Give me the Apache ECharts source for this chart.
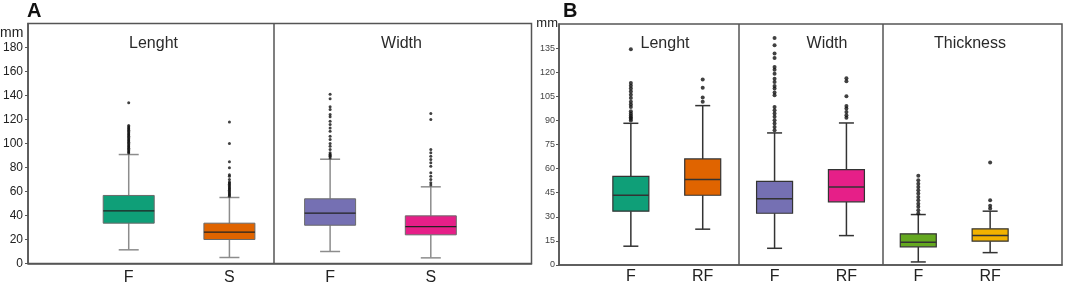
<!DOCTYPE html>
<html>
<head>
<meta charset="utf-8">
<script src="https://cdn.jsdelivr.net/npm/echarts@6/dist/echarts.min.js"></script>
<style>html,body{margin:0;padding:0;background:#fff}#c{width:1065px;height:286px}</style>
</head>
<body>
<div id="c"></div>
<script>
// ---------- DATA ----------
// Categories (empty entries pad the axis ends)
const catsA = ['', 'F', 'S', 'F', 'S', ''];
const catsB = ['', 'F', 'RF', 'F', 'RF', 'F', 'RF', ''];
const panelTitlesA = ['Lenght', 'Width'];
const panelTitlesB = ['Lenght', 'Width', 'Thickness'];
const unitLabel = 'mm';

// Box statistics: [low whisker, Q1, median, Q3, high whisker]  (mm)
const aLenghtF = [11.4, 33.6, 43.9, 56.7, 90.8];
const aLenghtS = [5.0, 20.0, 26.1, 33.6, 55.0];
const aWidthF  = [10.0, 31.9, 41.9, 53.9, 86.9];
const aWidthS  = [4.7, 23.9, 30.8, 39.7, 63.9];

const bLenghtF  = [11.7, 33.5, 43.4, 55.2, 88.2];
const bLenghtRF = [22.3, 43.4, 53.2, 66.0, 99.2];
const bWidthF   = [10.4, 32.2, 41.3, 52.1, 82.2];
const bWidthRF  = [18.3, 39.3, 48.6, 59.4, 88.4];
const bThickF   = [1.9, 11.3, 14.2, 19.4, 31.4];
const bThickRF  = [7.7, 14.8, 18.3, 22.5, 33.5];

// Outliers (mm)
const aLenghtFOut = [92, 93, 94, 95, 96, 97, 98, 99, 100, 101, 102, 103, 104, 105, 106, 107, 108, 109, 110, 111, 112, 113, 114, 115, 134];
const aLenghtSOut = [56, 57, 58, 59, 60, 61, 62, 63, 64, 65, 66, 67, 68, 70, 72.8, 74, 79.7, 84.7, 100, 118];
const aWidthFOut  = [88, 89.4, 90, 91, 92.2, 95, 97.8, 100, 103.3, 106.1, 110.3, 113, 115.8, 118.6, 122.2, 124.2, 128.3, 130.6, 137.2, 141.1];
const aWidthSOut  = [65.5, 67.2, 70, 72.8, 75.6, 81.1, 83.9, 86.7, 89.4, 92.2, 95, 120, 125];

const bLenghtFOut  = [90, 91, 92, 93, 94.3, 95.7, 98.4, 99.9, 101.6, 104, 106, 108, 109.8, 111.5, 113.3, 134.3];
const bLenghtRFOut = [101.6, 104.2, 110.3, 115.4];
const bWidthFOut   = [83.9, 85.9, 88, 90.1, 92.2, 94.3, 96.3, 98.4, 105.7, 107.3, 109.8, 111.4, 113.9, 116, 119.1, 121.6, 123.3, 128.9, 131.6, 136.8, 141.3];
const bWidthRFOut  = [91.6, 93.2, 95.3, 97.4, 99, 105, 114.4, 116.2];
const bThickFOut   = [32, 34.1, 36.2, 38.2, 40.3, 42.4, 44.5, 46.5, 48.6, 50.5, 52.8, 55.5];
const bThickRFOut  = [35.1, 36.8, 40.3, 63.8];

// Panel divider positions (in category-axis units)
const dividersA = [2.44];
const dividersB = [2.5, 4.5];

// ---------- STYLE ----------
const colors = {teal:'#0f9f78', orange:'#e06400', purple:'#7570b3', pink:'#e61f88', lime:'#64a820', gold:'#f2b200'};
const FONT = '"Liberation Sans", Arial, sans-serif';

const boxesA = [
  {x:1, s:aLenghtF, o:aLenghtFOut, c:colors.teal},
  {x:2, s:aLenghtS, o:aLenghtSOut, c:colors.orange},
  {x:3, s:aWidthF,  o:aWidthFOut,  c:colors.purple},
  {x:4, s:aWidthS,  o:aWidthSOut,  c:colors.pink}
];
const boxesB = [
  {x:1, s:bLenghtF,  o:bLenghtFOut,  c:colors.teal},
  {x:2, s:bLenghtRF, o:bLenghtRFOut, c:colors.orange},
  {x:3, s:bWidthF,   o:bWidthFOut,   c:colors.purple},
  {x:4, s:bWidthRF,  o:bWidthRFOut,  c:colors.pink},
  {x:5, s:bThickF,   o:bThickFOut,   c:colors.lime},
  {x:6, s:bThickRF,  o:bThickRFOut,  c:colors.gold}
];

function makeRenderer(st) {
  return function (params, api) {
    const x = api.value(0);
    const p = [1,2,3,4,5].map(i => api.coord([x, api.value(i)]));
    const cx = p[0][0];
    const yLow = p[0][1], yQ1 = p[1][1], yMed = p[2][1], yQ3 = p[3][1], yHigh = p[4][1];
    const hw = st.boxW / 2, cw = st.capW / 2;
    const ws = {stroke: st.whisker, lineWidth: st.wLW};
    return {type:'group', children:[
      {type:'line', shape:{x1:cx, y1:yHigh, x2:cx, y2:yQ3}, style:ws},
      {type:'line', shape:{x1:cx, y1:yQ1, x2:cx, y2:yLow}, style:ws},
      {type:'line', shape:{x1:cx-cw, y1:yHigh, x2:cx+cw, y2:yHigh}, style:ws},
      {type:'line', shape:{x1:cx-cw, y1:yLow, x2:cx+cw, y2:yLow}, style:ws},
      {type:'rect', shape:{x:cx-hw, y:yQ3, width:st.boxW, height:yQ1-yQ3},
        style:{fill: api.visual('color'), stroke: st.border, lineWidth: st.bLW}},
      {type:'line', shape:{x1:cx-hw, y1:yMed, x2:cx+hw, y2:yMed}, style:{stroke: st.median, lineWidth: st.mLW}}
    ]};
  };
}

function boxSeries(boxes, xi, yi, st) {
  return {
    type:'custom', xAxisIndex:xi, yAxisIndex:yi,
    renderItem: makeRenderer(st),
    encode:{x:0, y:[1,2,3,4,5]},
    data: boxes.map(b => ({value:[b.x].concat(b.s), itemStyle:{color:b.c}})),
    silent:true, z:3
  };
}
function outlierSeries(boxes, xi, yi, size) {
  const pts = [];
  boxes.forEach(b => b.o.forEach(v => pts.push([b.x, v])));
  return {type:'scatter', xAxisIndex:xi, yAxisIndex:yi, data:pts, symbolSize:size,
    itemStyle:{color:'#111'}, silent:true, z:4};
}
function dividerSeries(xi, yi, list) {
  return {type:'line', xAxisIndex:xi, yAxisIndex:yi, data:[[0,0]], showSymbol:false,
    lineStyle:{opacity:0}, silent:true,
    markLine:{symbol:'none', silent:true, label:{show:false}, animation:false,
      lineStyle:{color:'#555', width:1.5, type:'solid'},
      data: list.map(v => ({xAxis:v}))}};
}

const frame = '#555';
const chart = echarts.init(document.getElementById('c'));
chart.setOption({
  animation:false,
  backgroundColor:'#fff',
  grid:[
    {left:28, right:533.5, top:23.5, bottom:22.5, show:true, borderColor:frame, borderWidth:1.5},
    {left:559, right:3, top:24, bottom:21, show:true, borderColor:frame, borderWidth:1.5}
  ],
  xAxis:[
    {gridIndex:0, type:'category', data:catsA, boundaryGap:false,
      axisLine:{lineStyle:{color:frame, width:1.5}}, axisTick:{show:false},
      axisLabel:{interval:0, fontSize:16, color:'#222', fontFamily:FONT, margin:6}},
    {gridIndex:1, type:'category', data:catsB, boundaryGap:false,
      axisLine:{lineStyle:{color:frame, width:1.5}}, axisTick:{show:false},
      axisLabel:{interval:0, fontSize:16, color:'#222', fontFamily:FONT, margin:4}},
    {gridIndex:0, type:'value', min:0, max:catsA.length-1, show:false},
    {gridIndex:1, type:'value', min:0, max:catsB.length-1, show:false}
  ],
  yAxis:[
    {gridIndex:0, type:'value', min:0, max:200, interval:20,
      axisLine:{show:true, lineStyle:{color:frame, width:1.5}},
      axisTick:{show:true, length:3, lineStyle:{color:frame}},
      splitLine:{show:false},
      axisLabel:{showMaxLabel:false, fontSize:12, color:'#222', fontFamily:FONT, margin:5}},
    {gridIndex:1, type:'value', min:0, max:150, interval:15,
      axisLine:{show:true, lineStyle:{color:frame, width:1.5}},
      axisTick:{show:true, length:3, lineStyle:{color:frame}},
      splitLine:{show:false},
      axisLabel:{showMaxLabel:false, fontSize:9, color:'#444', fontFamily:FONT, margin:4}}
  ],
  graphic:[
    {type:'text', x:27, y:11, style:{text:'A', font:'bold 20px '+FONT, fill:'#111', align:'left', verticalAlign:'middle'}},
    {type:'text', x:563, y:11, style:{text:'B', font:'bold 20px '+FONT, fill:'#111', align:'left', verticalAlign:'middle'}},
    {type:'text', x:0, y:33, style:{text:unitLabel, font:'14px '+FONT, fill:'#222', align:'left', verticalAlign:'middle'}},
    {type:'text', x:558, y:23, style:{text:unitLabel, font:'13px '+FONT, fill:'#222', align:'right', verticalAlign:'middle'}},
    {type:'text', x:153.5, y:44, style:{text:panelTitlesA[0], font:'16px '+FONT, fill:'#2a2a2a', align:'center', verticalAlign:'middle'}},
    {type:'text', x:401.5, y:44, style:{text:panelTitlesA[1], font:'16px '+FONT, fill:'#2a2a2a', align:'center', verticalAlign:'middle'}},
    {type:'text', x:665, y:44, style:{text:panelTitlesB[0], font:'16px '+FONT, fill:'#2a2a2a', align:'center', verticalAlign:'middle'}},
    {type:'text', x:827, y:44, style:{text:panelTitlesB[1], font:'16px '+FONT, fill:'#2a2a2a', align:'center', verticalAlign:'middle'}},
    {type:'text', x:970, y:44, style:{text:panelTitlesB[2], font:'16px '+FONT, fill:'#2a2a2a', align:'center', verticalAlign:'middle'}}
  ],
  series:[
    boxSeries(boxesA, 0, 0, {boxW:51, capW:20, whisker:'#8c8c8c', wLW:1.5, border:'#6a6a6a', bLW:1, median:'#222', mLW:1.2}),
    outlierSeries(boxesA, 0, 0, 3),
    dividerSeries(2, 0, dividersA),
    boxSeries(boxesB, 1, 1, {boxW:36, capW:15, whisker:'#333', wLW:1.5, border:'#333', bLW:1.2, median:'#333', mLW:1.5}),
    outlierSeries(boxesB, 1, 1, 4),
    dividerSeries(3, 1, dividersB)
  ]
});
</script>
</body>
</html>
